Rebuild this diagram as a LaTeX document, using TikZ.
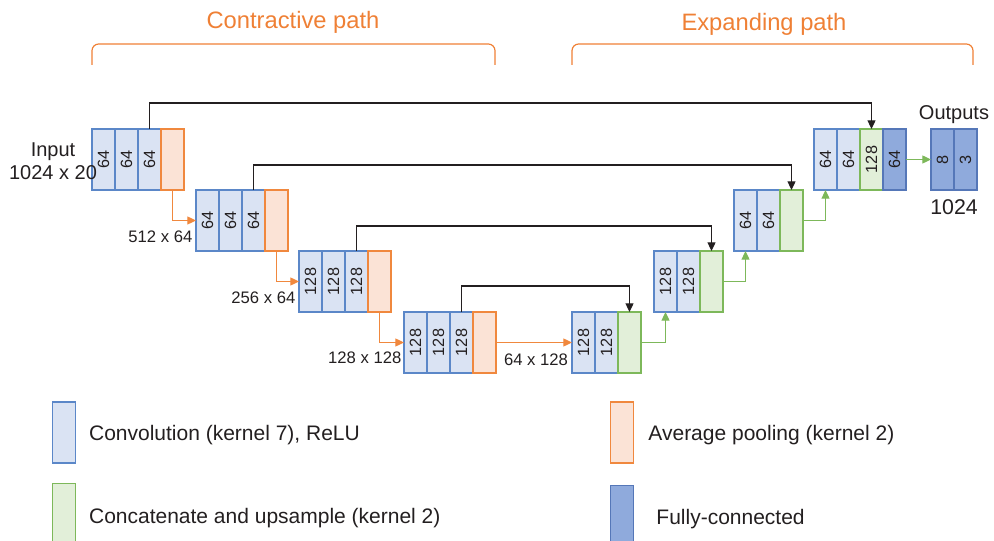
\documentclass[tikz,border=0pt]{standalone}
\usepackage{fontspec}
\setmainfont{Liberation Sans}
\usetikzlibrary{positioning,arrows.meta}

\definecolor{convfill}{HTML}{DAE3F3}
\definecolor{convline}{HTML}{5B87C8}
\definecolor{poolfill}{HTML}{FBE3D6}
\definecolor{poolline}{HTML}{F0883E}
\definecolor{upfill}{HTML}{E2EFD9}
\definecolor{upline}{HTML}{7DB85A}
\definecolor{fcfill}{HTML}{8FAADC}
\definecolor{fcline}{HTML}{5577B8}
\definecolor{textgray}{HTML}{231F20}
\definecolor{titleorange}{HTML}{EF8035}

\newcommand{\upnum}[1]{\rotatebox{90}{#1}}

\begin{document}
\begin{tikzpicture}[x=0.75pt, y=-0.75pt,
  every node/.style={text=textgray},
  cell/.style={minimum width=17.25pt, minimum height=45.75pt, inner sep=0pt, outer sep=0pt, line width=0.9pt, font=\fontsize{12.2}{13}\selectfont},
  conv/.style={cell, draw=convline, fill=convfill},
  pool/.style={cell, draw=poolline, fill=poolfill},
  upcell/.style={cell, draw=upline, fill=upfill},
  fc/.style={cell, draw=fcline, fill=fcfill},
  skiparrow/.style={draw=textgray, line width=0.9pt, -{Triangle[length=6.5pt,width=6pt]}},
  poolarrow/.style={draw=poolline, line width=0.9pt, -{Triangle[length=6.5pt,width=6pt]}},
  uparrow/.style={draw=upline, line width=0.9pt, -{Triangle[length=6.5pt,width=6pt]}},
  lbl/.style={inner sep=1pt, font=\fontsize{15}{17.5}\selectfont},
  dimlbl/.style={inner sep=1pt, font=\fontsize{12.5}{14}\selectfont},
  title/.style={text=titleorange, inner sep=1pt, font=\fontsize{17.8}{20}\selectfont},
  bracket/.style={draw=titleorange, line width=0.9pt, rounded corners=5pt},
  legtext/.style={inner sep=0pt, font=\fontsize{15.75}{18}\selectfont}]
\useasboundingbox (0,0) rectangle (994,541);

% contractive path
\node[conv] (e1a) at (103.5,159.5) {\upnum{64}};
\node[conv, right=0pt of e1a] (e1b) {\upnum{64}};
\node[conv, right=0pt of e1b] (e1c) {\upnum{64}};
\node[pool, right=0pt of e1c] (e1p) {};

\node[conv] (e2a) at (207.5,220.5) {\upnum{64}};
\node[conv, right=0pt of e2a] (e2b) {\upnum{64}};
\node[conv, right=0pt of e2b] (e2c) {\upnum{64}};
\node[pool, right=0pt of e2c] (e2p) {};

\node[conv] (e3a) at (310.5,281.5) {\upnum{128}};
\node[conv, right=0pt of e3a] (e3b) {\upnum{128}};
\node[conv, right=0pt of e3b] (e3c) {\upnum{128}};
\node[pool, right=0pt of e3c] (e3p) {};

\node[conv] (e4a) at (415.5,342.5) {\upnum{128}};
\node[conv, right=0pt of e4a] (e4b) {\upnum{128}};
\node[conv, right=0pt of e4b] (e4c) {\upnum{128}};
\node[pool, right=0pt of e4c] (e4p) {};

% expanding path
\node[conv] (d1a) at (583.5,342.5) {\upnum{128}};
\node[conv, right=0pt of d1a] (d1b) {\upnum{128}};
\node[upcell, right=0pt of d1b] (d1u) {};

\node[conv] (d2a) at (665.5,281.5) {\upnum{128}};
\node[conv, right=0pt of d2a] (d2b) {\upnum{128}};
\node[upcell, right=0pt of d2b] (d2u) {};

\node[conv] (d3a) at (745.5,220.5) {\upnum{64}};
\node[conv, right=0pt of d3a] (d3b) {\upnum{64}};
\node[upcell, right=0pt of d3b] (d3u) {};

\node[conv] (d4a) at (825.5,159.5) {\upnum{64}};
\node[conv, right=0pt of d4a] (d4b) {\upnum{64}};
\node[upcell, right=0pt of d4b] (d4u) {\upnum{128}};
\node[fc, right=0pt of d4u] (d4f) {\upnum{64}};

\node[fc] (out8) at (942.5,159.5) {\upnum{8}};
\node[fc, right=0pt of out8] (out3) {\upnum{3}};

% connections
\draw[poolarrow] (e1p.south) |- (e2a.west);
\draw[poolarrow] (e2p.south) |- (e3a.west);
\draw[poolarrow] (e3p.south) |- (e4a.west);
\draw[poolarrow] (e4p.east) -- (d1a.west);
\draw[uparrow] (d1u.east) -| (d2a.south);
\draw[uparrow] (d2u.east) -| (d3a.south);
\draw[uparrow] (d3u.east) -| (d4a.south);
\draw[uparrow] (d4f.east) -- (out8.west);
\draw[skiparrow] (e1c.north) -- ++(0,-26) -| (d4u.north);
\draw[skiparrow] (e2c.north) -- ++(0,-25) -| (d3u.north);
\draw[skiparrow] (e3c.north) -- ++(0,-25) -| (d2u.north);
\draw[skiparrow] (e4c.north) -- ++(0,-26) -| (d1u.north);

% labels
\node[lbl, align=center] (inlbl) at (53,161.5) {Input\\1024 x 20};
\node[dimlbl, anchor=east] (dim2) at ([shift={(-2,-14)}]e2a.south west) {512 x 64};
\node[dimlbl, anchor=east] (dim3) at ([shift={(-2,-14)}]e3a.south west) {256 x 64};
\node[dimlbl, anchor=east] (dim4) at ([shift={(-1,-15)}]e4a.south west) {128 x 128};
\node[dimlbl] (dim5) at (536,360) {64 x 128};
\node[lbl, anchor=south] (outlbl) at ([yshift=3pt]out8.north east) {Outputs};
\node[lbl, font=\fontsize{16}{18}\selectfont, anchor=north] (outsize) at ([yshift=-6pt]out8.south east) {1024};

\node[title] (ctitle) at (293,22) {Contractive path};
\node[title] (etitle) at (764,24) {Expanding path};
\draw[bracket] (92,65) |- (495,44) -- (495,65);
\draw[bracket] (572,65) |- (973,44) -- (973,65);

% legend
\node[conv] (legconv) at (64,432.5) {};
\node[legtext, right=10pt of legconv, yshift=-2pt] (legconvtxt) {Convolution (kernel 7), ReLU};
\node[pool] (legpool) at (622,432.5) {};
\node[legtext, right=11pt of legpool, yshift=-2pt] (legpooltxt) {Average pooling (kernel 2)};
\node[upcell] (legup) at (64,514) {};
\node[legtext, right=10pt of legup, yshift=-3pt] (leguptxt) {Concatenate and upsample (kernel 2)};
\node[fc] (legfc) at (622,516) {};
\node[legtext, right=17pt of legfc, yshift=-2pt] (legfctxt) {Fully-connected};
\end{tikzpicture}
\end{document}
